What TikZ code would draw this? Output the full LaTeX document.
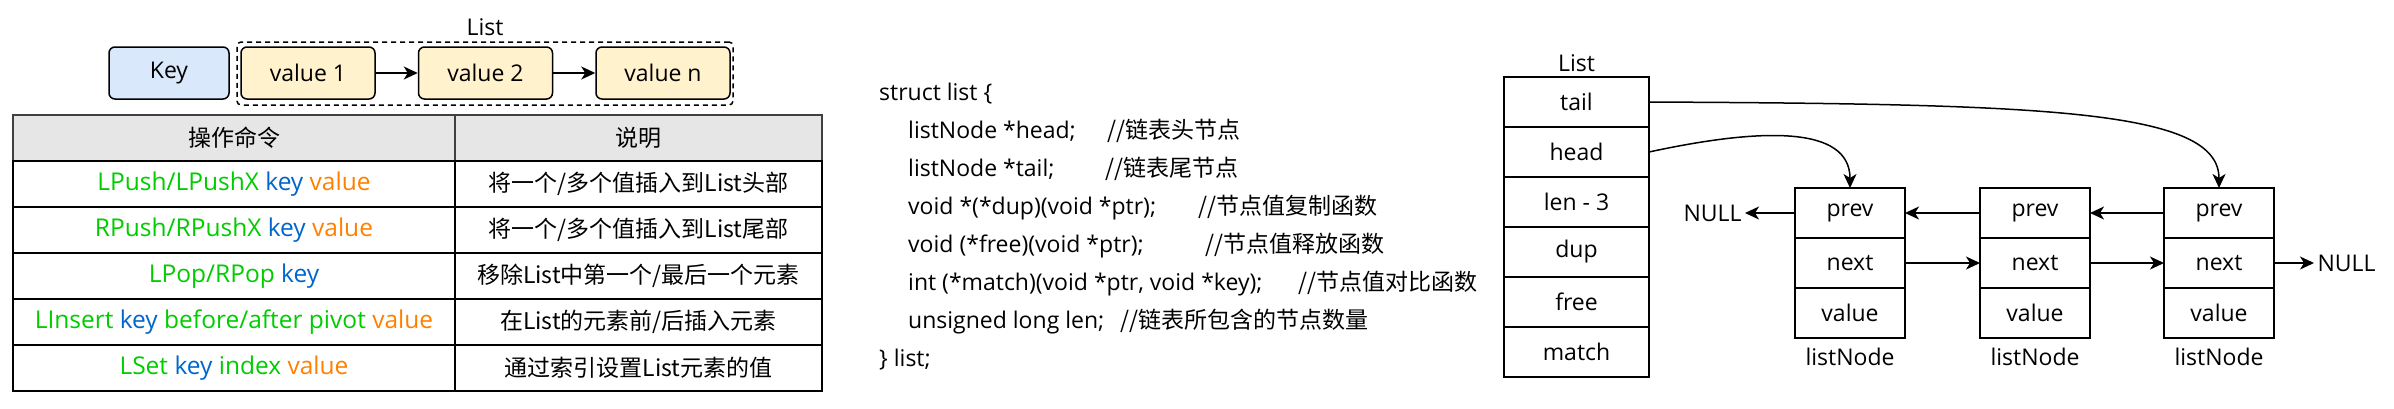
\documentclass[tikz,border=0pt]{standalone}
\usepackage{fontspec}
\setmainfont{Open Sans}
\newfontfamily\cjk{Noto Sans CJK SC}
\usepackage{xcolor}
\usepackage{tikz}
\usetikzlibrary{positioning,arrows.meta}
\definecolor{cmdgreen}{HTML}{00CC00}
\definecolor{keyblue}{HTML}{0066CC}
\definecolor{valorange}{HTML}{FF8000}
\definecolor{keyfill}{HTML}{DAE8FC}
\definecolor{valfill}{HTML}{FFF2CC}
\definecolor{headfill}{HTML}{E6E6E6}
\newcommand{\cmd}[1]{\textcolor{cmdgreen}{#1}}
\newcommand{\ky}[1]{\textcolor{keyblue}{#1}}
\newcommand{\vl}[1]{\textcolor{valorange}{#1}}
\newcommand{\zh}{\cjk\fontsize{23}{27}\selectfont}

\begin{document}
\begin{tikzpicture}[
  x=1pt, y=-1pt,
  font=\fontsize{23}{27}\selectfont,
  box/.style={draw, line width=1.5pt, rounded corners=6pt, minimum height=52, inner sep=0pt},
  keybox/.style={box, fill=keyfill, minimum width=120},
  valbox/.style={box, fill=valfill, minimum width=134},
  hcell/.style={draw=black!75, line width=1.5pt, fill=headfill, minimum height=46,
                inner sep=0pt, outer sep=0pt, font=\zh},
  cell/.style={draw, line width=2pt, minimum height=46, inner sep=0pt, outer sep=0pt,
               font=\fontsize{24.5}{28}\selectfont},
  field/.style={draw, line width=2pt, minimum width=145, minimum height=50, inner sep=0pt, outer sep=0pt},
  slot/.style={draw, line width=2pt, minimum width=110, minimum height=50, inner sep=0pt, outer sep=0pt},
  codeline/.style={anchor=base west, inner sep=0pt},
  note/.style={anchor=base west, inner sep=0pt, font=\zh},
  arr/.style={-{Stealth[length=14pt, width=13pt, inset=4pt]}, line width=1.5pt},
]
\useasboundingbox (0,0) rectangle (2394,408);

% key and its list of values
\node[keybox] (key) at (169,73) {Key};
\node[valbox] (v1) at (308,73) {value 1};
\node[valbox, right=42pt of v1] (v2) {value 2};
\node[valbox, right=42pt of v2] (vn) {value n};
\node[draw, dashed, dash pattern=on 5pt off 4pt, line width=1.5pt, rounded corners=4pt,
      minimum width=496, minimum height=63] (vlist) at (485,73.5) {};
\node[above=2pt of vlist] (vlistlbl) {List};
\draw[arr] (v1) -- (v2);
\draw[arr] (v2) -- (vn);

% command table
\node[hcell, minimum width=442] (h1) at (234,138) {操作命令};
\node[hcell, minimum width=367] (h2) at (638.5,138) {说明};
\node[cell, minimum width=442] (c11) at (234,184) {\cmd{LPush/LPushX} \ky{key} \vl{value}};
\node[cell, minimum width=367, font=\zh] (c12) at (638.5,184) {将一个/多个值插入到List头部};
\node[cell, minimum width=442] (c21) at (234,230) {\cmd{RPush/RPushX} \ky{key} \vl{value}};
\node[cell, minimum width=367, font=\zh] (c22) at (638.5,230) {将一个/多个值插入到List尾部};
\node[cell, minimum width=442] (c31) at (234,276) {\cmd{LPop/RPop} \ky{key}};
\node[cell, minimum width=367, font=\zh] (c32) at (638.5,276) {移除List中第一个/最后一个元素};
\node[cell, minimum width=442] (c41) at (234,322) {\cmd{LInsert} \ky{key} \cmd{before/after pivot} \vl{value}};
\node[cell, minimum width=367, font=\zh] (c42) at (638.5,322) {在List的元素前/后插入元素};
\node[cell, minimum width=442] (c51) at (234,368) {\cmd{LSet} \ky{key} \cmd{index} \vl{value}};
\node[cell, minimum width=367, font=\zh] (c52) at (638.5,368) {通过索引设置List元素的值};

% struct list source
\node[codeline] (s0) at (879,100) {struct list \{};
\node[codeline] (s1) at (908,138) {listNode *head;};
\node[note] (m1) at (1107,138) {//链表头节点};
\node[codeline] (s2) at (908,176) {listNode *tail;};
\node[note] (m2) at (1105,176) {//链表尾节点};
\node[codeline] (s3) at (908,214) {void *(*dup)(void *ptr);};
\node[note] (m3) at (1198,214) {//节点值复制函数};
\node[codeline] (s4) at (908,252) {void (*free)(void *ptr);};
\node[note] (m4) at (1205,252) {//节点值释放函数};
\node[codeline] (s5) at (908,290) {int (*match)(void *ptr, void *key);};
\node[note] (m5) at (1298,290) {//节点值对比函数};
\node[codeline] (s6) at (908,328) {unsigned long len;};
\node[note] (m6) at (1120,328) {//链表所包含的节点数量};
\node[codeline] (s7) at (879,366) {\} list;};

% list header
\node[field] (ftail) at (1576.5,102) {tail};
\node[field, below=0pt of ftail] (fhead) {head};
\node[field, below=0pt of fhead] (flen) {len - 3};
\node[field, below=0pt of flen] (fdup) {dup};
\node[field, below=0pt of fdup] (ffree) {free};
\node[field, below=0pt of ffree] (fmatch) {match};
\node[above=2pt of ftail] (lstlbl) {List};

% list nodes
\node[slot] (n1prev) at (1850,213) {prev};
\node[slot, below=0pt of n1prev] (n1next) {next};
\node[slot, below=0pt of n1next] (n1val) {value};
\node[below=6pt of n1val] (n1lbl) {listNode};
\node[slot] (n2prev) at (2035,213) {prev};
\node[slot, below=0pt of n2prev] (n2next) {next};
\node[slot, below=0pt of n2next] (n2val) {value};
\node[below=6pt of n2val] (n2lbl) {listNode};
\node[slot] (n3prev) at (2219,213) {prev};
\node[slot, below=0pt of n3prev] (n3next) {next};
\node[slot, below=0pt of n3next] (n3val) {value};
\node[below=6pt of n3val] (n3lbl) {listNode};
\node[left=50pt of n1prev] (nullL) {NULL};
\node[right=40pt of n3next] (nullR) {NULL};

\draw[arr] (n1prev) -- (nullL);
\draw[arr] (n2prev) -- (n1prev);
\draw[arr] (n3prev) -- (n2prev);
\draw[arr] (n1next) -- (n2next);
\draw[arr] (n2next) -- (n3next);
\draw[arr] (n3next) -- (nullR);
\draw[arr] (fhead.east) .. controls (1760,128) and (1850,125) .. (n1prev.north);
\draw[arr] (ftail.east) .. controls (2050,104) and (2219,110) .. (n3prev.north);
\end{tikzpicture}
\end{document}
